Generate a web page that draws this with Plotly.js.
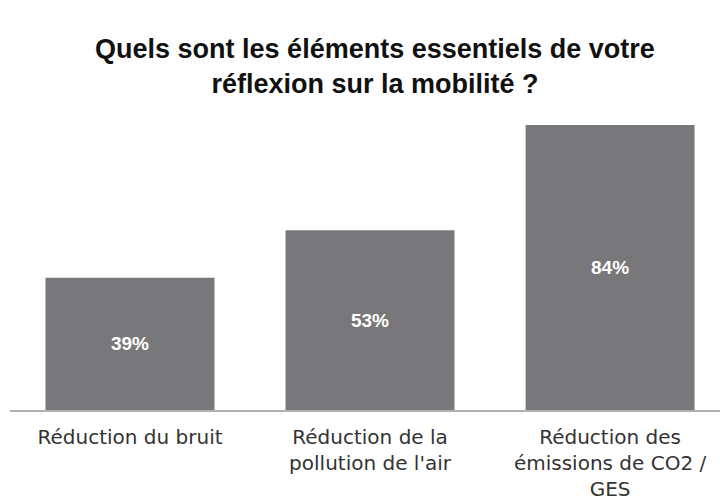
<!DOCTYPE html>
<html>
<head>
<meta charset="utf-8">
<script src="https://cdn.plot.ly/plotly-3.0.1.min.js"></script>
<style>html,body{margin:0;padding:0;background:#fff;}#chart{width:720px;height:501px;}</style>
</head>
<body>
<div id="chart"></div>
<script>
const categories = ["Réduction du bruit", "Réduction de la<br>pollution de l'air", "Réduction des<br>émissions de CO2 /<br>GES"];
const values = [39, 53, 84];
const valueLabels = ["39%", "53%", "84%"];

const trace = {
  type: 'bar',
  x: categories,
  y: values,
  text: valueLabels,
  textposition: 'inside',
  insidetextanchor: 'middle',
  textfont: {family: 'Liberation Sans, Arial, sans-serif', size: 19, color: '#ffffff', weight: 'bold'},
  marker: {color: '#78787a'},
  hoverinfo: 'skip'
};

const layout = {
  width: 720, height: 501,
  margin: {l: 10, r: 0, t: 100, b: 91},
  paper_bgcolor: '#ffffff', plot_bgcolor: '#ffffff',
  showlegend: false,
  bargap: 0.296,
  title: {
    text: '<b>Quels sont les éléments essentiels de votre<br>réflexion sur la mobilité ?</b>',
    font: {family: 'Liberation Sans, Arial, sans-serif', size: 27, color: '#111111'},
    x: 0.514, xanchor: 'center', xref: 'paper',
    y: 0.885, yanchor: 'top', yref: 'container'
  },
  xaxis: {
    type: 'category',
    range: [-0.5, 2.458],
    showgrid: false, zeroline: false,
    showline: true, linecolor: '#b0b0b0', linewidth: 1.5,
    ticks: '',
    ticklabelstandoff: 8,
    tickfont: {family: 'DejaVu Sans, sans-serif', size: 20, color: '#333333'},
    tickangle: 0
  },
  yaxis: {
    range: [0, 91.4],
    showgrid: false, zeroline: false, showline: false,
    showticklabels: false, ticks: ''
  }
};

Plotly.newPlot('chart', [trace], layout, {displayModeBar: false, staticPlot: true});
</script>
</body>
</html>
